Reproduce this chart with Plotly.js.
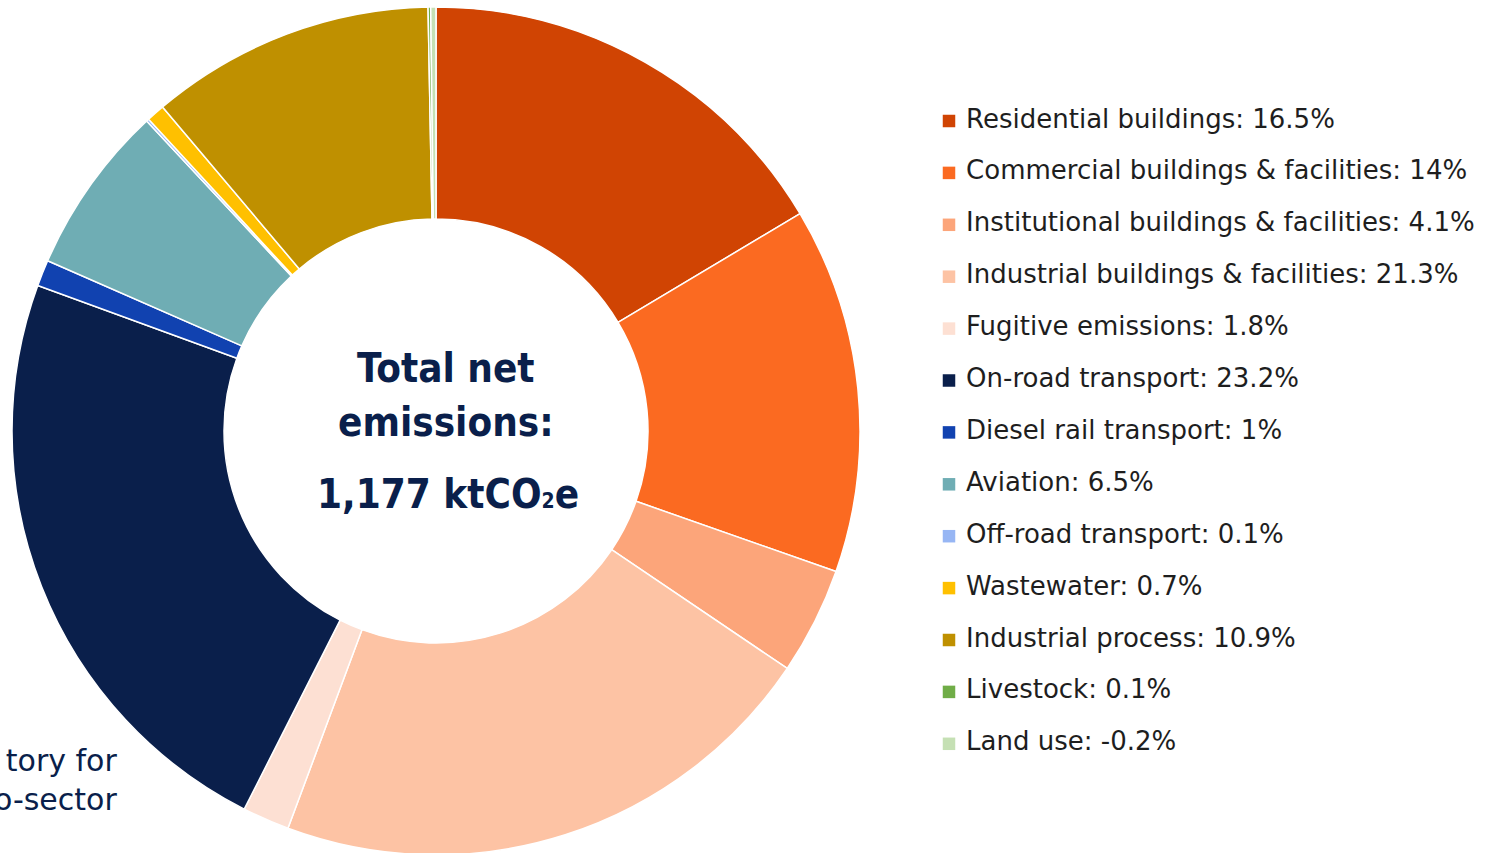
<!DOCTYPE html>
<html>
<head>
<meta charset="utf-8">
<script src="https://cdn.plot.ly/plotly-3.0.1.min.js"></script>
<style>
  html, body { margin: 0; padding: 0; background: #fff; overflow: hidden; }
  #chart { width: 1502px; height: 857px; }
</style>
</head>
<body>
<div id="chart"></div>
<script>
// sub-sector shares of total net emissions (%)
const sectors = [
    "Residential buildings",
    "Commercial buildings & facilities",
    "Institutional buildings & facilities",
    "Industrial buildings & facilities",
    "Fugitive emissions",
    "On-road transport",
    "Diesel rail transport",
    "Aviation",
    "Off-road transport",
    "Wastewater",
    "Industrial process",
    "Livestock",
    "Land use"
];
const shares = [16.5, 14, 4.1, 21.3, 1.8, 23.2, 1, 6.5, 0.1, 0.7, 10.9, 0.1, -0.2];
const colours = [
    "#d04403", "#fb6a21", "#fca57a", "#fdc3a4", "#fde0d3",
    "#0a1f4b", "#1142b0", "#6fadb4", "#97b6f4", "#ffc000",
    "#bf9000", "#70ad47", "#c5e0b4"
];

const W = 1502, H = 857;
const FONT = "'DejaVu Sans', sans-serif";
const FONT_NARROW = "'DejaVu Sans Condensed', 'DejaVu Sans', sans-serif";
const navy = "#0a1f4b";

// pie can't take negative slices, so land use is drawn by its size
const donut = {
    type: 'pie',
    values: shares.map(v => Math.abs(v)),
    labels: sectors,
    marker: {colors: colours, line: {color: '#ffffff', width: 1.5}},
    hole: 0.5,
    sort: false,
    direction: 'clockwise',
    rotation: 0,
    textinfo: 'none',
    hoverinfo: 'label',
    showlegend: false,
    domain: {x: [12 / W, 860 / W], y: [(H - 855) / H, (H - 7) / H]}
};

// legend drawn as a column of square markers with text, in pixel axes
const rowTop = 121, rowGap = 51.9;
const legend = {
    type: 'scatter',
    mode: 'markers+text',
    x: sectors.map(() => 949),
    y: sectors.map((s, i) => rowTop + i * rowGap),
    text: sectors.map((s, i) => '\u00a0' + s + ': ' + shares[i] + '%'),
    textposition: 'middle right',
    textfont: {family: FONT, size: 26, color: '#1e1e1e'},
    marker: {symbol: 'square', size: 12.5, color: colours},
    hoverinfo: 'skip',
    showlegend: false,
    cliponaxis: false
};

const centreFont = {family: FONT_NARROW, size: 40, color: navy, weight: 'bold'};

Plotly.newPlot('chart', [donut, legend], {
    width: W,
    height: H,
    margin: {l: 0, r: 0, t: 0, b: 0},
    paper_bgcolor: '#ffffff',
    plot_bgcolor: 'rgba(0,0,0,0)',
    xaxis: {range: [0, W], visible: false, fixedrange: true},
    yaxis: {range: [H, 0], visible: false, fixedrange: true},
    annotations: [
        {x: 446, y: 368, xref: 'x', yref: 'y', text: '<b>Total net</b>', showarrow: false, font: centreFont},
        {x: 446, y: 422, xref: 'x', yref: 'y', text: '<b>emissions:</b>', showarrow: false, font: centreFont},
        {x: 448, y: 494, xref: 'x', yref: 'y',
         text: '<b>1,177 ktCO<span style="font-size:21px">2</span>e</b>', showarrow: false, font: centreFont},
        {x: 119, y: 780, xref: 'x', yref: 'y', xanchor: 'right', align: 'right',
         text: 'tory for<br>o-sector', showarrow: false,
         font: {family: FONT, size: 30, color: navy}}
    ]
}, {displayModeBar: false, staticPlot: true});
</script>
</body>
</html>
